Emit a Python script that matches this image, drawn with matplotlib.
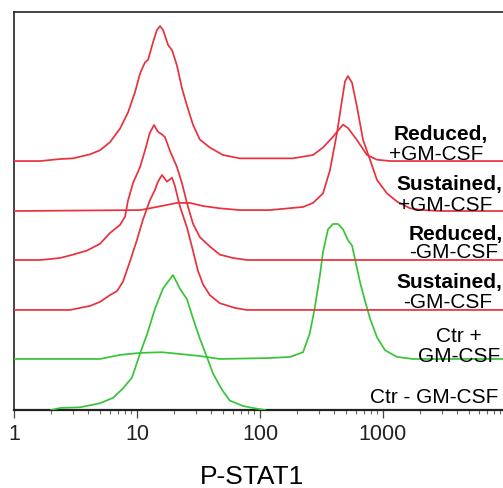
import matplotlib
matplotlib.use("Agg")
import matplotlib.pyplot as plt
from matplotlib.ticker import FixedLocator, NullFormatter, LogLocator

# ---------------- data (P-STAT1 intensity, % of max) ----------------
ctr_minus_x = [2.0, 2.37, 3.44, 5.0, 6.38, 7.69, 9.1, 10.6, 12.06, 14.0, 16.27, 19.62,
               22.3, 25.5, 28.5, 32.4, 37.1, 41.5, 49.1, 56.8, 72.7, 87.7, 110]
ctr_minus_y = [0, 1.5, 2, 5, 9, 16, 24, 42, 56, 75, 90, 100,
               90, 82, 68, 53, 39, 27, 15, 7, 3, 1.5, 0]

ctr_plus_x = [1, 5.0, 7.27, 10.6, 15.97, 22.3, 32.4, 47.1, 120, 175, 224, 254, 279, 307,
              325, 357, 392, 431, 473, 519, 560, 592, 650, 714, 784, 894, 1038, 1300,
              1754, 10000]
ctr_plus_y = [0, 0, 3, 4.5, 5, 3.7, 2.2, 0, 0.7, 1.5, 5, 19, 38, 62,
              79, 96, 100, 100, 96, 88, 84, 74, 57, 43, 30, 16, 6.5, 1.5,
              0, 0]

sus_minus_x = [1, 2.85, 4.15, 5.0, 6.03, 6.88, 7.69, 8.77, 10, 11.19, 12.7, 14.0, 14.8,
               15.97, 17.5, 19.26, 20.3, 22.3, 25.5, 28.5, 31.3, 34.4, 39.1, 47.1,
               62.6, 78.4, 10000]
sus_minus_y = [0, 0, 3, 6, 11, 14, 21, 36, 52, 67, 81, 89, 95,
               100, 95, 98, 92, 77, 61, 44, 29, 19, 11, 5,
               1.5, 0, 0]

red_minus_x = [1, 1.63, 2.37, 3.02, 3.92, 5.0, 6.03, 7.27, 7.99, 8.45, 9.28, 10.6, 11.6,
               12.7, 13.75, 14.8, 15.97, 16.9, 18.5, 21.1, 23.2, 25.5, 28.5, 32.4,
               39.1, 47.1, 60.3, 78.4, 10000]
red_minus_y = [0, 0, 1.5, 4, 7, 12, 20, 26, 32, 44, 57, 69, 81,
               94, 100, 95, 93, 91, 81, 69, 57, 42, 27, 17,
               10, 4, 1.5, 0, 0]

sus_plus_x = [1, 10.6, 12.7, 17.5, 21.1, 26.9, 34.4, 47.1, 68.5, 120, 224, 270, 325,
              370, 423, 464, 491, 519, 560, 615, 687, 784, 894, 1078, 1300, 1658,
              2114, 2907, 10000]
sus_plus_y = [0, 0.7, 2, 4.5, 6, 6, 3.7, 2, 0.7, 0.7, 3, 6, 13,
              30, 58, 82, 96, 100, 95, 77, 53, 38, 23, 13, 7, 2,
              0.7, 0, 0]

red_plus_x = [1, 1.63, 2.37, 3.02, 4.15, 5.0, 6.03, 7.27, 8.45, 9.63, 10.6, 11.6, 12.3,
              13.5, 14.5, 15.4, 16.3, 17.9, 19.3, 21.1, 23.2, 25.5, 28.5, 32.4, 39.1,
              50, 68.5, 100, 120, 185, 270, 325, 392, 473, 519, 615, 741, 894, 1146,
              10000]
red_plus_y = [0, 0, 1.5, 2, 5, 8, 14, 24, 36, 51, 65, 73, 75,
              88, 97, 100, 97, 86, 82, 71, 54, 41, 27, 16, 10,
              4.5, 2, 2, 2, 2, 4.5, 10, 18, 27, 24.5, 15.5, 4.5, 1, 0,
              0]

tick_values = [1, 10, 100, 1000]
tick_labels = ["1", "10", "100", "1000"]

# ---------------- figure ----------------
W, H = 503, 488
fig = plt.figure(figsize=(W / 100, H / 100), dpi=100)
ax = fig.add_axes([14 / W, (H - 410) / H, (W - 14) / W, 398 / H])

RED = "#e8313d"
GREEN = "#38c438"
offsets = [0, 37.8, 74.1, 111.1, 147.4, 184.4]
traces = [
    (ctr_minus_x, ctr_minus_y, GREEN),
    (ctr_plus_x, ctr_plus_y, GREEN),
    (sus_minus_x, sus_minus_y, RED),
    (red_minus_x, red_minus_y, RED),
    (sus_plus_x, sus_plus_y, RED),
    (red_plus_x, red_plus_y, RED),
]
for (xs, ys, c), off in zip(traces, offsets):
    ax.plot(xs, [v + off for v in ys], color=c, lw=1.25, solid_joinstyle="round",
            clip_on=True, zorder=3)

ax.set_xscale("log")
ax.set_xlim(1, 10 ** ((W - 14) / 123))
ax.set_ylim(0, 398 / 1.35)

ax.spines["right"].set_visible(False)
for s in ["left", "top", "bottom"]:
    ax.spines[s].set_color("#222222")
ax.spines["left"].set_linewidth(1.2)
ax.spines["top"].set_linewidth(1.2)
ax.spines["bottom"].set_linewidth(1.6)

ax.set_yticks([])
ax.xaxis.set_major_locator(FixedLocator(tick_values))
ax.set_xticklabels(tick_labels, fontfamily="Liberation Sans", fontsize=15.5,
                   color="#222222")
ax.xaxis.set_minor_locator(LogLocator(base=10, subs=range(2, 10), numticks=20))
ax.xaxis.set_minor_formatter(NullFormatter())
ax.tick_params(axis="x", which="major", direction="out", length=5.5, width=0.9,
               color="#444444", pad=4.5)
ax.tick_params(axis="x", which="minor", direction="out", length=3, width=0.8,
               color="#666666")

# ---------------- labels ----------------
def ftxt(x, y, s, bold=False, size=15):
    fig.text(x / W, 1 - y / H, s, ha="right", va="baseline",
             fontfamily="Liberation Sans", fontsize=size,
             fontweight="bold" if bold else "normal", color="black")

ftxt(488, 140, "Reduced,", bold=True)
ftxt(483, 160, "+GM-CSF")
ftxt(502, 190, "Sustained,", bold=True)
ftxt(492, 211, "+GM-CSF")
ftxt(503, 240, "Reduced,", bold=True)
ftxt(498, 258, "-GM-CSF")
ftxt(502, 288, "Sustained,", bold=True)
ftxt(492, 308, "-GM-CSF")
ftxt(482, 342, "Ctr +")
ftxt(500, 362, "GM-CSF")
ftxt(498, 403, "Ctr - GM-CSF")

fig.text(252 / W, 1 - 484 / H, "P-STAT1", ha="center", va="baseline",
         fontfamily="Liberation Sans", fontsize=19, color="black")

fig.savefig("out.png", dpi=100)
